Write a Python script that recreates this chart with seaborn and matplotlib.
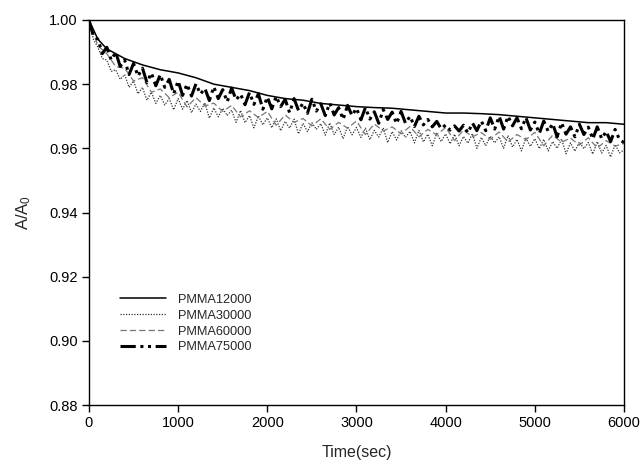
import numpy as np
import pandas as pd
import matplotlib
matplotlib.use("Agg")
import matplotlib.pyplot as plt
import seaborn as sns

# ---------------- data ----------------
t_12000 = [0, 100, 200, 400, 600, 800, 1000, 1200, 1400, 1600, 1800, 2000, 2200, 2400,
           2600, 2800, 3000, 3200, 3400, 3600, 3800, 4000, 4200, 4400, 4600, 4800, 5000,
           5200, 5400, 5600, 5800, 6000]
pmma12000 = [1.0000, 0.9940, 0.9910, 0.9880, 0.9860, 0.9845, 0.9835, 0.9820, 0.9800,
             0.9790, 0.9780, 0.9765, 0.9755, 0.9750, 0.9740, 0.9735, 0.9730, 0.9727,
             0.9725, 0.9720, 0.9715, 0.9710, 0.9710, 0.9708, 0.9705, 0.9700, 0.9695,
             0.9690, 0.9685, 0.9680, 0.9680, 0.9675]

t_50 = list(range(0, 6001, 50))
pmma30000 = [1.0000, 0.9940, 0.9915, 0.9880, 0.9875, 0.9840, 0.9845, 0.9815, 0.9830, 0.9790,
             0.9810, 0.9770, 0.9790, 0.9750, 0.9775, 0.9740, 0.9765, 0.9735, 0.9755, 0.9720,
             0.9755, 0.9722, 0.9749, 0.9711, 0.9738, 0.9715, 0.9742, 0.9694, 0.9726, 0.9698,
             0.9725, 0.9702, 0.9719, 0.9681, 0.9718, 0.9680, 0.9702, 0.9664, 0.9701, 0.9673,
             0.9695, 0.9664, 0.9692, 0.9655, 0.9684, 0.9663, 0.9691, 0.9645, 0.9678, 0.9652,
             0.9680, 0.9659, 0.9677, 0.9641, 0.9679, 0.9643, 0.9666, 0.9630, 0.9668, 0.9642,
             0.9665, 0.9634, 0.9663, 0.9627, 0.9656, 0.9635, 0.9664, 0.9618, 0.9652, 0.9626,
             0.9655, 0.9634, 0.9653, 0.9617, 0.9656, 0.9620, 0.9644, 0.9608, 0.9647, 0.9621,
             0.9645, 0.9614, 0.9644, 0.9608, 0.9637, 0.9616, 0.9646, 0.9600, 0.9634, 0.9608,
             0.9638, 0.9617, 0.9636, 0.9600, 0.9640, 0.9604, 0.9628, 0.9592, 0.9632, 0.9606,
             0.9630, 0.9599, 0.9628, 0.9592, 0.9621, 0.9600, 0.9629, 0.9583, 0.9617, 0.9591,
             0.9620, 0.9599, 0.9618, 0.9582, 0.9621, 0.9585, 0.9609, 0.9573, 0.9612, 0.9586,
             0.9595]

t_100 = list(range(0, 6001, 100))
pmma60000 = [1.0000, 0.9920, 0.9895, 0.9855, 0.9850, 0.9810, 0.9820, 0.9775, 0.9785, 0.9758,
             0.9775, 0.9729, 0.9758, 0.9732, 0.9741, 0.9715, 0.9734, 0.9698, 0.9717, 0.9696,
             0.9715, 0.9672, 0.9704, 0.9681, 0.9693, 0.9670, 0.9692, 0.9659, 0.9681, 0.9663,
             0.9685, 0.9643, 0.9676, 0.9654, 0.9667, 0.9645, 0.9668, 0.9636, 0.9659, 0.9642,
             0.9665, 0.9624, 0.9657, 0.9636, 0.9649, 0.9628, 0.9651, 0.9620, 0.9643, 0.9627,
             0.9650, 0.9608, 0.9641, 0.9619, 0.9632, 0.9610, 0.9633, 0.9601, 0.9624, 0.9607,
             0.9615]

pmma75000 = [1.0000, 0.9950, 0.9940, 0.9895, 0.9915, 0.9875, 0.9900, 0.9855, 0.9875, 0.9830,
             0.9865, 0.9825, 0.9850, 0.9805, 0.9835, 0.9795, 0.9830, 0.9790, 0.9815, 0.9770,
             0.9810, 0.9765, 0.9800, 0.9763, 0.9801, 0.9769, 0.9787, 0.9749, 0.9792, 0.9755,
             0.9783, 0.9745, 0.9788, 0.9751, 0.9769, 0.9736, 0.9774, 0.9737, 0.9770, 0.9722,
             0.9760, 0.9723, 0.9762, 0.9730, 0.9753, 0.9711, 0.9755, 0.9718, 0.9741, 0.9709,
             0.9753, 0.9716, 0.9739, 0.9702, 0.9741, 0.9704, 0.9727, 0.9690, 0.9734, 0.9702,
             0.9725, 0.9689, 0.9727, 0.9691, 0.9714, 0.9678, 0.9721, 0.9690, 0.9713, 0.9677,
             0.9715, 0.9678, 0.9700, 0.9668, 0.9700, 0.9673, 0.9690, 0.9667, 0.9684, 0.9661,
             0.9673, 0.9657, 0.9670, 0.9654, 0.9672, 0.9648, 0.9679, 0.9655, 0.9685, 0.9655,
             0.9695, 0.9660, 0.9700, 0.9660, 0.9700, 0.9670, 0.9695, 0.9661, 0.9696, 0.9657,
             0.9682, 0.9646, 0.9685, 0.9653, 0.9677, 0.9636, 0.9680, 0.9644, 0.9667, 0.9636,
             0.9675, 0.9643, 0.9666, 0.9629, 0.9667, 0.9630, 0.9653, 0.9621, 0.9659, 0.9627,
             0.9618]

series_names = ["PMMA12000", "PMMA30000", "PMMA60000", "PMMA75000"]
x_ticks = [0, 1000, 2000, 3000, 4000, 5000, 6000]
y_ticks = [0.88, 0.90, 0.92, 0.94, 0.96, 0.98, 1.00]

# ---------------- style ----------------
sns.set_style("ticks")
plt.rcParams["font.family"] = ["Liberation Sans", "DejaVu Sans"]
plt.rcParams["mathtext.fontset"] = "custom"
plt.rcParams["mathtext.rm"] = "Liberation Sans"
plt.rcParams["mathtext.it"] = "Liberation Sans"

fig = plt.figure(figsize=(6.4, 4.65), dpi=100)
ax = fig.add_axes([0.139, 0.129, 0.836, 0.828])

sns.lineplot(x=t_12000, y=pmma12000, ax=ax, color="black", linewidth=1.1,
             linestyle="-", label=series_names[0])
sns.lineplot(x=t_50, y=pmma30000, ax=ax, color="#333333", linewidth=0.9,
             linestyle=(0, (1, 1.2)), label=series_names[1])
sns.lineplot(x=t_100, y=pmma60000, ax=ax, color="#777777", linewidth=0.9,
             linestyle=(0, (5, 2.5)), label=series_names[2])
sns.lineplot(x=t_50, y=pmma75000, ax=ax, color="black", linewidth=2.2,
             linestyle=(0, (5, 1.5, 1, 1.5, 1, 1.5)), label=series_names[3])

ax.set_xlim(0, 6000)
ax.set_ylim(0.88, 1.00)
ax.set_xticks(x_ticks)
ax.set_xticklabels([str(v) for v in x_ticks])
ax.set_yticks(y_ticks)
ax.set_yticklabels([f"{v:.2f}" for v in y_ticks])
ax.tick_params(axis="both", direction="out", length=5, width=1, labelsize=10.5,
               colors="black", pad=3)
for s in ax.spines.values():
    s.set_visible(True)
    s.set_color("black")
    s.set_linewidth(1.0)

ax.set_xlabel("Time(sec)", fontsize=11.5, labelpad=11)
ax.set_ylabel(r"A/A$_\mathregular{0}$", fontsize=12, labelpad=12)

leg = ax.legend(loc="upper left", bbox_to_anchor=(0.038, 0.315), frameon=False,
                fontsize=9.2, handlelength=3.6, handletextpad=1.0, labelspacing=0.3,
                borderpad=0.3)

fig.savefig("out.png", dpi=100)
